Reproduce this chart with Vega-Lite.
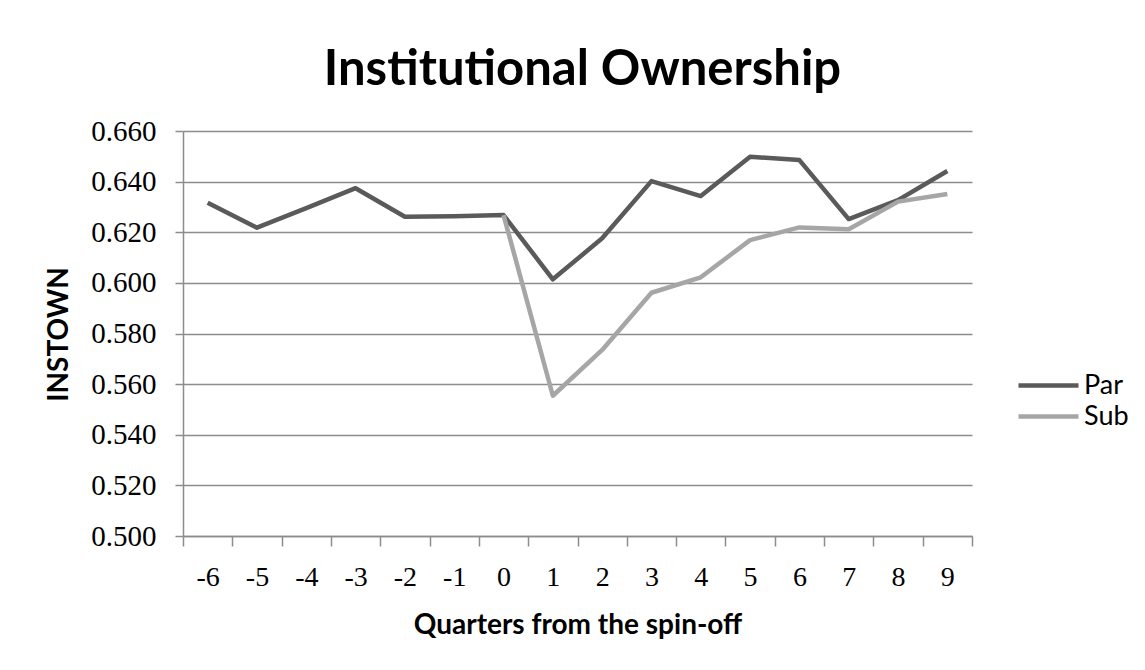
{
  "$schema": "https://vega.github.io/schema/vega-lite/v6.json",
  "width": 789,
  "height": 405,
  "autosize": {"type": "none"},
  "padding": {"left": 183, "top": 131, "right": 173, "bottom": 134},
  "background": "white",
  "title": {
    "text": "Institutional Ownership",
    "font": "Lato",
    "fontSize": 49,
    "fontWeight": "bold",
    "color": "#000000",
    "anchor": "middle",
    "frame": "group",
    "baseline": "alphabetic",
    "offset": 47,
    "dx": 5,
    "dy": 64
  },
  "data": {
    "values": [
      {"q": -6, "series": "Par", "v": 0.6317},
      {"q": -5, "series": "Par", "v": 0.6218},
      {"q": -4, "series": "Par", "v": 0.6295},
      {"q": -3, "series": "Par", "v": 0.6374},
      {"q": -2, "series": "Par", "v": 0.6261},
      {"q": -1, "series": "Par", "v": 0.6263},
      {"q": 0, "series": "Par", "v": 0.6268},
      {"q": 1, "series": "Par", "v": 0.6014},
      {"q": 2, "series": "Par", "v": 0.6176},
      {"q": 3, "series": "Par", "v": 0.6402},
      {"q": 4, "series": "Par", "v": 0.6343},
      {"q": 5, "series": "Par", "v": 0.6498},
      {"q": 6, "series": "Par", "v": 0.6485},
      {"q": 7, "series": "Par", "v": 0.6252},
      {"q": 8, "series": "Par", "v": 0.6327},
      {"q": 9, "series": "Par", "v": 0.6442},
      {"q": 0, "series": "Sub", "v": 0.6268},
      {"q": 1, "series": "Sub", "v": 0.5554},
      {"q": 2, "series": "Sub", "v": 0.5735},
      {"q": 3, "series": "Sub", "v": 0.5961},
      {"q": 4, "series": "Sub", "v": 0.6022},
      {"q": 5, "series": "Sub", "v": 0.6169},
      {"q": 6, "series": "Sub", "v": 0.6219},
      {"q": 7, "series": "Sub", "v": 0.6212},
      {"q": 8, "series": "Sub", "v": 0.6321},
      {"q": 9, "series": "Sub", "v": 0.6351}
    ]
  },
  "mark": {"type": "line", "strokeWidth": 4.5, "strokeJoin": "round"},
  "encoding": {
    "x": {
      "field": "q",
      "type": "ordinal",
      "bandPosition": 0.5,
      "scale": {"type": "band", "paddingInner": 0, "paddingOuter": 0},
      "axis": {
        "tickBand": "extent",
        "labelAngle": 0,
        "grid": false,
        "domainColor": "#8c8c8c",
        "domainWidth": 1.5,
        "tickColor": "#8c8c8c",
        "tickWidth": 1.5,
        "tickSize": 10,
        "labelFont": "Liberation Serif",
        "labelFontSize": 28,
        "labelColor": "#000000",
        "labelPadding": 17,
        "title": "Quarters from the spin-off",
        "titleFont": "Lato",
        "titleFontSize": 28,
        "titleFontWeight": "bold",
        "titleColor": "#000000",
        "titlePadding": 20
      }
    },
    "y": {
      "field": "v",
      "type": "quantitative",
      "scale": {"domain": [0.5, 0.66], "nice": false, "zero": false},
      "axis": {
        "values": [0.5, 0.52, 0.54, 0.56, 0.58, 0.6, 0.62, 0.64, 0.66],
        "format": ".3f",
        "grid": true,
        "gridColor": "#8c8c8c",
        "gridWidth": 1.5,
        "domainColor": "#8c8c8c",
        "domainWidth": 1.5,
        "tickColor": "#8c8c8c",
        "tickWidth": 1.5,
        "tickSize": 8,
        "labelFont": "Liberation Serif",
        "labelFontSize": 29,
        "labelColor": "#000000",
        "labelPadding": 19,
        "title": "INSTOWN",
        "titleFont": "Lato",
        "titleFontSize": 28,
        "titleFontWeight": "bold",
        "titleColor": "#000000",
        "titleX": -110,
        "titleY": 203,
        "titleAngle": -90,
        "titleBaseline": "bottom",
        "titleAlign": "center"
      }
    },
    "color": {
      "field": "series",
      "type": "nominal",
      "scale": {"domain": ["Par", "Sub"], "range": ["#5a5a5a", "#a6a6a6"]},
      "legend": {
        "title": null,
        "orient": "none",
        "legendX": 848,
        "legendY": 237,
        "padding": 0,
        "symbolType": "M-2,0H2",
        "symbolSize": 900,
        "symbolStrokeWidth": 4.5,
        "symbolFillColor": "transparent",
        "labelFont": "Lato",
        "labelFontSize": 27,
        "labelColor": "#000000",
        "labelOffset": 18,
        "rowPadding": 0
      }
    }
  },
  "config": {"view": {"stroke": null}}
}
